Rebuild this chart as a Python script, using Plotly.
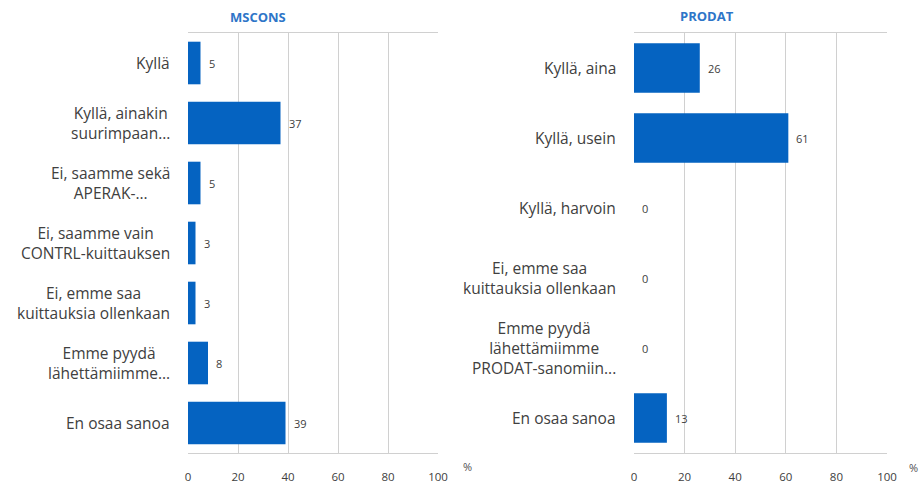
import plotly.graph_objects as go

# MSCONS answers (top to bottom)
mscons_labels = [
    "Kyllä",
    "Kyllä, ainakin<br>suurimpaan...",
    "Ei, saamme sekä<br>APERAK-...",
    "Ei, saamme vain<br>CONTRL-kuittauksen",
    "Ei, emme saa<br>kuittauksia ollenkaan",
    "Emme pyydä<br>lähettämiimme...",
    "En osaa sanoa",
]
mscons_values = [5, 37, 5, 3, 3, 8, 39]

# PRODAT answers (top to bottom)
prodat_labels = [
    "Kyllä, aina",
    "Kyllä, usein",
    "Kyllä, harvoin",
    "Ei, emme saa<br>kuittauksia ollenkaan",
    "Emme pyydä<br>lähettämiimme<br>PRODAT-sanomiin...",
    "En osaa sanoa",
]
prodat_values = [26, 61, 0, 0, 0, 13]

x_ticks = [0, 20, 40, 60, 80, 100]

BAR = "#0563C1"
GRID = "#D0D0D0"
TXT = "#404040"
FONT = "Open Sans"

fig = go.Figure()

fig.add_trace(go.Bar(x=mscons_values, y=mscons_labels, orientation="h",
                     marker=dict(color=BAR, line=dict(width=0)),
                     xaxis="x", yaxis="y", showlegend=False))
fig.add_trace(go.Bar(x=prodat_values, y=prodat_labels, orientation="h",
                     marker=dict(color=BAR, line=dict(width=0)),
                     xaxis="x2", yaxis="y2", showlegend=False))

annotations = []
for xr, yr, labels, values in [("x", "y", mscons_labels, mscons_values),
                               ("x2", "y2", prodat_labels, prodat_values)]:
    for lab, v in zip(labels, values):
        # value label next to the bar
        annotations.append(dict(x=v, y=lab, xref=xr, yref=yr, text=str(v),
                                showarrow=False, xanchor="left", xshift=6,
                                font=dict(size=11, color=TXT, family=FONT)))
        # category label, lines centred like in Excel
        annotations.append(dict(x=0, y=lab, xref=xr, yref=yr, text=lab,
                                showarrow=False, xanchor="right", xshift=-16,
                                align="center",
                                font=dict(size=15.5, color=TXT, family=FONT)))

# panel titles and % unit labels
def paper_text(px, py, text, size, color):
    return dict(x=px / 922, y=1 - py / 483, xref="paper", yref="paper", text=text,
                showarrow=False, xanchor="center", yanchor="middle",
                font=dict(size=size, color=color, family=FONT))

annotations += [
    paper_text(258, 17, "<b>MSCONS</b>", 13, "#2E75C8"),
    paper_text(707, 16, "<b>PRODAT</b>", 13, "#2E75C8"),
    paper_text(467, 466, "%", 11, "#505050"),
    paper_text(913, 467, "%", 11, "#505050"),
]

xaxis_common = dict(range=[0, 100], tickvals=x_ticks, showgrid=True, gridcolor=GRID,
                    gridwidth=1, zeroline=False, showline=True, linecolor=GRID,
                    mirror=True, ticks="", tickfont=dict(size=11.5, color=TXT, family=FONT),
                    ticklabelstandoff=13, automargin=False, fixedrange=True)
yaxis_common = dict(autorange="reversed", showgrid=False, zeroline=False, showline=False,
                    ticks="", showticklabels=False, automargin=False, fixedrange=True)

fig.update_layout(
    width=922, height=483,
    margin=dict(l=0, r=0, t=0, b=0),
    paper_bgcolor="white", plot_bgcolor="white",
    bargap=0.29,
    xaxis=dict(domain=[188 / 922, 438 / 922], anchor="y", **xaxis_common),
    yaxis=dict(domain=[1 - 453 / 483, 1 - 33 / 483], anchor="x", **yaxis_common),
    xaxis2=dict(domain=[634 / 922, 887 / 922], anchor="y2", **xaxis_common),
    yaxis2=dict(domain=[1 - 453 / 483, 1 - 33 / 483], anchor="x2", **yaxis_common),
    annotations=annotations,
)

fig.write_html("out.html", config=dict(displayModeBar=False),
               post_script="document.body.style.margin='0px';")
